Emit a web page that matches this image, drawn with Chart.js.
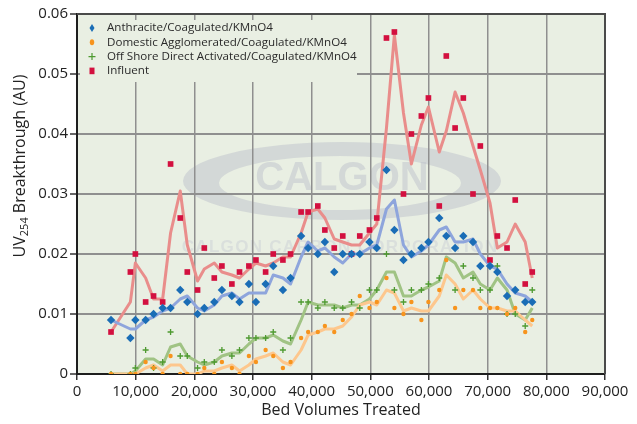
<!DOCTYPE html>
<html>
<head>
<meta charset="utf-8">
<script src="https://cdn.jsdelivr.net/npm/chart.js@4.4.1/dist/chart.umd.min.js"></script>
<style>
  html, body { margin: 0; padding: 0; background: #fff; }
  #chart { display: block; }
</style>
</head>
<body>
<canvas id="chart" width="637" height="424"></canvas>
<script>
// ===== data =====
const bedVolumes = [5800, 9100, 9950, 11700, 13050, 14600, 15950, 17600, 18800, 20550,
  21700, 23400, 24700, 26400, 27700, 29300, 30500, 32150, 33450, 35100,
  36400, 38200, 39400, 41050, 42250, 43850, 45300, 46800, 48200, 49850,
  51100, 52750, 54100, 55650, 57000, 58700, 59900, 61750, 62950, 64450,
  65850, 67500, 68750, 70400, 71650, 73300, 74700, 76400, 77600];

const anthracite = [0.009, 0.006, 0.009, 0.009, 0.010, 0.011, 0.011, 0.014, 0.012, 0.010,
  0.011, 0.012, 0.014, 0.013, 0.012, 0.015, 0.012, 0.015, 0.018, 0.014,
  0.016, 0.023, 0.021, 0.020, 0.022, 0.017, 0.020, 0.020, 0.020, 0.022,
  0.021, 0.034, 0.024, 0.019, 0.020, 0.021, 0.022, 0.026, 0.023, 0.021,
  0.023, 0.022, 0.018, 0.018, 0.017, 0.013, 0.014, 0.012, 0.012];

const domestic = [0, 0, 0, 0.002, 0.001, 0, 0.003, 0, 0, 0,
  0.001, 0, 0.002, 0.001, 0, 0.003, 0.002, 0.004, 0.003, 0.001,
  0.002, 0.006, 0.007, 0.007, 0.008, 0.007, 0.009, 0.010, 0.013, 0.011,
  0.012, 0.016, 0.011, 0.010, 0.012, 0.009, 0.012, 0.014, 0.019, 0.011,
  0.014, 0.014, 0.011, 0.011, 0.011, 0.010, 0.011, 0.007, 0.009];

const offshore = [0, 0, 0.001, 0.004, 0.001, 0.002, 0.007, 0.003, 0.003, 0.001,
  0.002, 0.002, 0.004, 0.003, 0.004, 0.006, 0.006, 0.006, 0.007, 0.004,
  0.006, 0.012, 0.012, 0.011, 0.012, 0.011, 0.011, 0.012, 0.011, 0.014,
  0.014, 0.020, 0.014, 0.012, 0.014, 0.014, 0.015, 0.016, 0.023, 0.014,
  0.018, 0.016, 0.014, 0.014, 0.018, 0.010, 0.010, 0.008, 0.014];

const influent = [0.007, 0.017, 0.020, 0.012, 0.013, 0.012, 0.035, 0.026, 0.017, 0.014,
  0.021, 0.016, 0.018, 0.015, 0.017, 0.018, 0.019, 0.017, 0.020, 0.019,
  0.020, 0.027, 0.027, 0.028, 0.024, 0.021, 0.023, 0.020, 0.023, 0.024,
  0.026, 0.056, 0.057, 0.030, 0.040, 0.043, 0.046, 0.028, 0.053, 0.041,
  0.046, 0.030, 0.038, 0.019, 0.023, 0.021, 0.029, 0.015, 0.017];

// trend lines (as drawn)
const anthraciteTrend = [0.009, 0.0075, 0.0075, 0.009, 0.0095, 0.0105, 0.011, 0.0125, 0.013, 0.011,
  0.0105, 0.0115, 0.013, 0.0135, 0.0125, 0.0135, 0.0135, 0.0135, 0.0165, 0.016,
  0.015, 0.0195, 0.022, 0.0205, 0.021, 0.0195, 0.0185, 0.020, 0.020, 0.021,
  0.0215, 0.0275, 0.029, 0.0215, 0.0195, 0.0205, 0.0215, 0.024, 0.0245, 0.022,
  0.022, 0.0225, 0.020, 0.018, 0.0175, 0.015, 0.0135, 0.013, 0.012];

const domesticTrend = [0, 0, 0, 0.001, 0.0015, 0.0005, 0.0015, 0.0015, 0, 0,
  0.0005, 0.0005, 0.001, 0.0015, 0.0005, 0.0015, 0.0025, 0.003, 0.0035, 0.002,
  0.0015, 0.004, 0.0065, 0.007, 0.0075, 0.0075, 0.008, 0.0095, 0.0115, 0.012,
  0.0115, 0.014, 0.0135, 0.0105, 0.011, 0.0105, 0.0105, 0.013, 0.0165, 0.015,
  0.0125, 0.014, 0.0125, 0.011, 0.011, 0.0105, 0.0105, 0.009, 0.008];

const offshoreTrend = [0, 0, 0.0005, 0.0025, 0.0025, 0.0015, 0.0045, 0.005, 0.003, 0.002,
  0.0015, 0.002, 0.003, 0.0035, 0.0035, 0.005, 0.006, 0.006, 0.0065, 0.0055,
  0.005, 0.009, 0.012, 0.0115, 0.0115, 0.0115, 0.011, 0.0115, 0.0115, 0.0125,
  0.014, 0.017, 0.017, 0.013, 0.013, 0.014, 0.0145, 0.0155, 0.0195, 0.0185,
  0.016, 0.017, 0.015, 0.014, 0.016, 0.014, 0.010, 0.009, 0.011];

const influentTrend = [0.007, 0.012, 0.0185, 0.016, 0.0125, 0.0125, 0.0235, 0.0305, 0.0215, 0.0155,
  0.0175, 0.0185, 0.017, 0.0165, 0.016, 0.0175, 0.0185, 0.018, 0.0185, 0.0195,
  0.0195, 0.0235, 0.027, 0.0275, 0.026, 0.0225, 0.022, 0.0215, 0.0215, 0.0235,
  0.025, 0.041, 0.0565, 0.0435, 0.035, 0.0415, 0.0445, 0.037, 0.0405, 0.047,
  0.0435, 0.038, 0.034, 0.0285, 0.021, 0.022, 0.025, 0.022, 0.016];

const seriesLabels = ['Anthracite/Coagulated/KMnO4', 'Domestic Agglomerated/Coagulated/KMnO4',
  'Off Shore Direct Activated/Coagulated/KMnO4', 'Influent'];

const xTicks = [0, 10000, 20000, 30000, 40000, 50000, 60000, 70000, 80000, 90000];
const xTickLabels = ['0', '10,000', '20,000', '30,000', '40,000', '50,000', '60,000', '70,000', '80,000', '90,000'];
const yTicks = [0, 0.01, 0.02, 0.03, 0.04, 0.05, 0.06];
const yTickLabels = ['0', '0.01', '0.02', '0.03', '0.04', '0.05', '0.06'];

// ===== colours =====
const PLOT_BG = '#e9efe3';
const GRID = '#8f8f8f';
const BLUE = '#1a6db6', BLUE_LINE = '#8ea5dc';
const ORANGE = '#f7941d', ORANGE_LINE = '#fdc78d';
const GREEN = '#4e9a30', GREEN_LINE = '#a0c384';
const RED = '#d3103f', RED_LINE = '#e98d8b';
const FONT = '"Open Sans", "Noto Sans", sans-serif';

const pts = ys => bedVolumes.map((x, i) => ({ x, y: ys[i] }));
const trend = (ys, color) => ({
  data: pts(ys), showLine: true, pointRadius: 0, borderColor: color,
  borderWidth: 3, fill: false, tension: 0, borderJoinStyle: 'round'
});

// ===== plugins =====
// plot background + faint CALGON watermark (under the grid)
const backdrop = {
  id: 'backdrop',
  beforeDraw(chart) {
    const { ctx, chartArea: a } = chart;
    ctx.save();
    ctx.fillStyle = PLOT_BG;
    ctx.fillRect(a.left, a.top, a.right - a.left, a.bottom - a.top);
    ctx.beginPath(); ctx.rect(a.left, a.top, a.right - a.left, a.bottom - a.top); ctx.clip();
    const cx = a.left + 265, cy = a.top + 167;
    ctx.fillStyle = 'rgba(190,193,204,0.5)';
    ctx.beginPath();
    ctx.ellipse(cx, cy, 159, 39, 0, 0, Math.PI * 2);
    ctx.moveTo(cx - 2 + 121, cy + 2);
    ctx.ellipse(cx - 2, cy + 2, 121, 27, 0, 0, Math.PI * 2);
    ctx.fill('evenodd');
    ctx.font = 'bold 40px "Liberation Sans", Arial, sans-serif';
    ctx.textAlign = 'center'; ctx.textBaseline = 'middle';
    ctx.fillStyle = 'rgba(190,193,204,0.5)';
    ctx.fillText('CALGON', cx, cy - 2);
    ctx.font = 'bold 17px "Liberation Sans", Arial, sans-serif';
    ctx.letterSpacing = '1.3px';
    ctx.fillStyle = 'rgba(196,199,210,0.4)';
    ctx.fillText('CALGON CARBON CORPORATION', cx - 2, cy + 66);
    ctx.restore();
  }
};

// legend box inside the plot (covers the grid)
const insideLegend = {
  id: 'insideLegend',
  beforeDatasetsDraw(chart) {
    const { ctx, chartArea: a } = chart;
    ctx.save();
    ctx.fillStyle = PLOT_BG;
    ctx.fillRect(a.left + 3, a.top + 6, 277, 62);
    const marks = [
      (x, y) => { ctx.fillStyle = BLUE; ctx.beginPath(); ctx.moveTo(x, y - 4); ctx.lineTo(x + 2.5, y); ctx.lineTo(x, y + 4); ctx.lineTo(x - 2.5, y); ctx.closePath(); ctx.fill(); },
      (x, y) => { ctx.fillStyle = ORANGE; ctx.beginPath(); ctx.ellipse(x, y, 2.2, 3, 0, 0, Math.PI * 2); ctx.fill(); },
      (x, y) => { ctx.strokeStyle = GREEN; ctx.lineWidth = 1.2; ctx.beginPath(); ctx.moveTo(x - 3.5, y); ctx.lineTo(x + 3.5, y); ctx.moveTo(x, y - 3.5); ctx.lineTo(x, y + 3.5); ctx.stroke(); },
      (x, y) => { ctx.fillStyle = RED; ctx.fillRect(x - 2.5, y - 3.3, 5, 6.6); }
    ];
    ctx.font = '11.6px ' + FONT;
    ctx.textBaseline = 'middle';
    seriesLabels.forEach((t, i) => {
      const y = a.top + 14 + i * 14.3;
      marks[i](a.left + 15, y);
      ctx.fillStyle = '#2a2a2a';
      ctx.fillText(t, a.left + 30, y);
    });
    ctx.restore();
  }
};

// top/right frame and the y title with subscript
const frame = {
  id: 'frame',
  afterDraw(chart) {
    const { ctx, chartArea: a } = chart;
    ctx.save();
    ctx.strokeStyle = '#4a4a4a'; ctx.lineWidth = 2;
    ctx.beginPath();
    ctx.moveTo(a.left, a.top); ctx.lineTo(a.right, a.top); ctx.lineTo(a.right, a.bottom);
    ctx.stroke();

    ctx.translate(25, 166);
    ctx.rotate(-Math.PI / 2);
    ctx.fillStyle = '#222';
    ctx.textBaseline = 'alphabetic';
    const big = '16px ' + FONT, small = '11px ' + FONT;
    ctx.font = big; const w1 = ctx.measureText('UV').width;
    const w3 = ctx.measureText(' Breakthrough (AU)').width;
    ctx.font = small; const w2 = ctx.measureText('254').width;
    let x = -(w1 + w2 + w3) / 2;
    ctx.font = big; ctx.fillText('UV', x, 0); x += w1;
    ctx.font = small; ctx.fillText('254', x, 3); x += w2;
    ctx.font = big; ctx.fillText(' Breakthrough (AU)', x, 0);
    ctx.restore();
  }
};

// ===== chart =====
new Chart(document.getElementById('chart'), {
  type: 'scatter',
  data: {
    datasets: [
      { label: seriesLabels[0], data: pts(anthracite), pointStyle: 'rectRot', pointRadius: 4.2,
        backgroundColor: BLUE, borderColor: BLUE, borderWidth: 0 },
      { label: seriesLabels[1], data: pts(domestic), pointStyle: 'circle', pointRadius: 2.2,
        backgroundColor: ORANGE, borderColor: ORANGE, borderWidth: 0 },
      { label: seriesLabels[2], data: pts(offshore), pointStyle: 'cross', pointRadius: 3,
        backgroundColor: GREEN, borderColor: GREEN, borderWidth: 1.3 },
      { label: seriesLabels[3], data: pts(influent), pointStyle: 'rect', pointRadius: 4,
        backgroundColor: RED, borderColor: RED, borderWidth: 0 },
      trend(anthraciteTrend, BLUE_LINE),
      trend(domesticTrend, ORANGE_LINE),
      trend(offshoreTrend, GREEN_LINE),
      trend(influentTrend, RED_LINE)
    ]
  },
  options: {
    responsive: false,
    animation: false,
    layout: { padding: { top: 14, right: 32, left: 0, bottom: 0 } },
    plugins: { legend: { display: false }, tooltip: { enabled: false } },
    scales: {
      x: {
        type: 'linear', min: 0, max: 90000,
        afterBuildTicks: s => { s.ticks = xTicks.map(v => ({ value: v })); },
        afterFit: s => { s.height = 50; },
        ticks: { callback: (v, i) => xTickLabels[i], color: '#222', padding: 3,
          font: { family: FONT, size: 15 }, maxRotation: 0, autoSkip: false },
        grid: { color: GRID, lineWidth: 1.5, tickLength: 6, tickColor: '#333', tickWidth: 1.5 },
        border: { color: '#1e1e1e', width: 2 },
        title: { display: true, text: 'Bed Volumes Treated', color: '#222',
          font: { family: FONT, size: 16 }, padding: { top: 0, bottom: 4 } }
      },
      y: {
        type: 'linear', min: 0, max: 0.06,
        afterBuildTicks: s => { s.ticks = yTicks.map(v => ({ value: v })); },
        afterFit: s => { s.width = 77; },
        ticks: { callback: (v, i) => yTickLabels[i], color: '#222', padding: 2,
          font: { family: FONT, size: 15 } },
        grid: { color: GRID, lineWidth: 2, tickLength: 7, tickColor: '#333', tickWidth: 1.5 },
        border: { color: '#1e1e1e', width: 2 }
      }
    }
  },
  plugins: [backdrop, insideLegend, frame]
});
</script>
</body>
</html>
